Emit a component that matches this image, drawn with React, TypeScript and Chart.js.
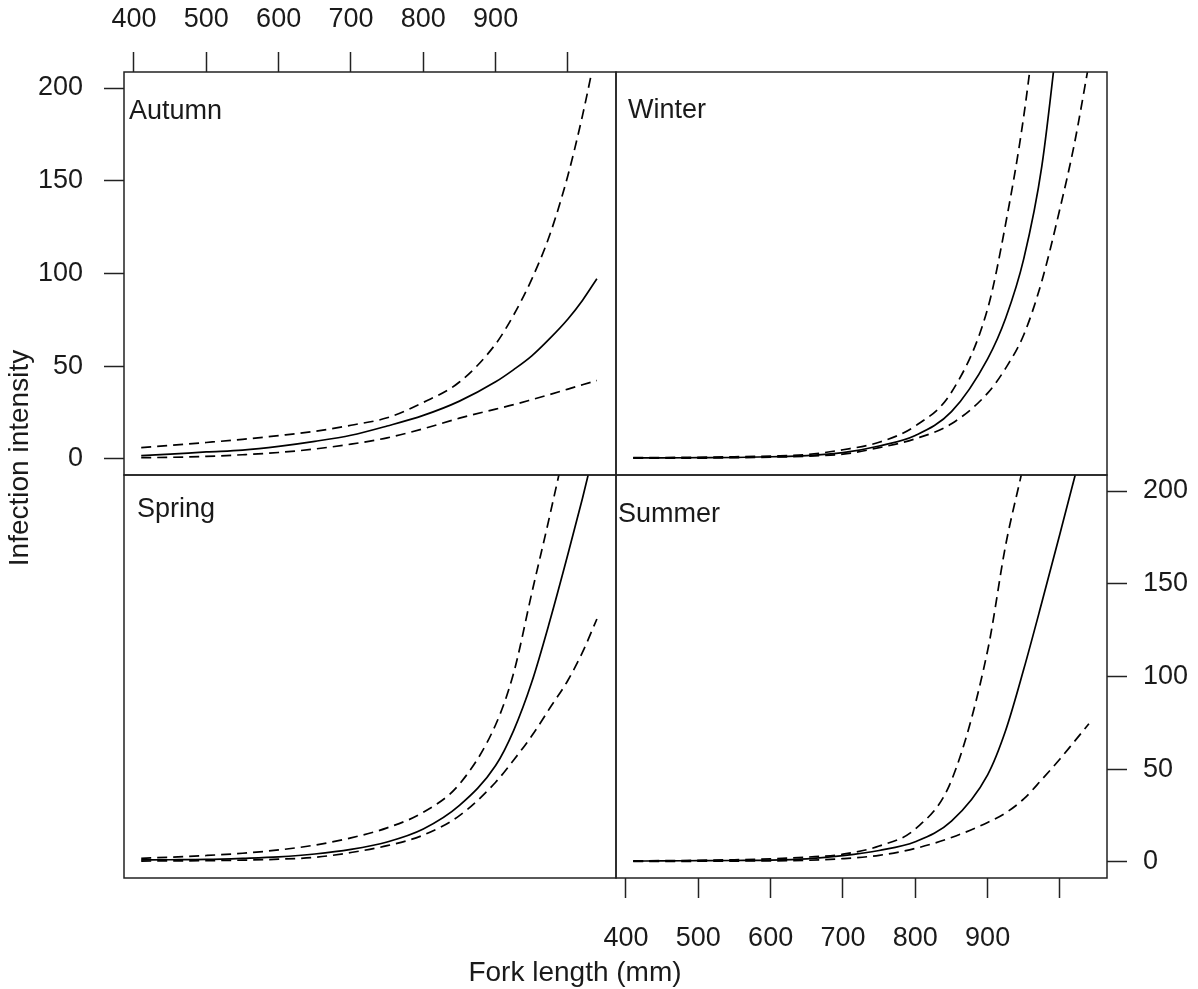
import { useEffect, useRef } from 'react';
import { Chart, registerables } from 'chart.js';

Chart.register(...registerables);

// Fork length (mm) at which every fitted curve is sampled
const FORK_LENGTH = [410, 450, 500, 550, 600, 650, 700, 750, 800, 850, 900, 925, 950, 975, 1000, 1020, 1040];

// Fitted infection intensity (solid) with its upper / lower confidence bounds (dashed)
const AUTUMN_FIT = [1.8, 2.6, 3.8, 4.8, 6.8, 9.5, 12.8, 17.8, 23.5, 31.2, 41.6, 48.2, 55.6, 65, 75.5, 85.5, 97.2];
const AUTUMN_UPPER = [6.1, 7.3, 8.9, 10.6, 12.6, 14.9, 18.2, 22.2, 30.5, 41.5, 62, 77.7, 97, 121, 153, 185, 222];
const AUTUMN_LOWER = [0.7, 0.9, 1.4, 2.3, 3.5, 5.4, 8.0, 11.4, 16.3, 22, 26.9, 29.3, 32, 34.8, 37.7, 40, 42.3];

const WINTER_FIT = [0.6, 0.6, 0.7, 0.8, 1.2, 1.8, 3.4, 7.0, 12.7, 25.5, 54, 76, 108, 158, 240, 310, 400];
const WINTER_UPPER = [0.7, 0.8, 0.9, 1.2, 1.6, 2.4, 5.0, 9.0, 17.8, 36, 81, 127, 185, 265, 360, 450, 560];
const WINTER_LOWER = [0.4, 0.5, 0.5, 0.7, 1.0, 1.5, 2.6, 6.1, 10.9, 19, 35.5, 49, 67, 96, 135, 170, 213];

const SPRING_FIT = [1.1, 1.2, 1.4, 2.0, 2.8, 4.3, 6.8, 10.8, 17.8, 30.5, 52, 71, 97, 130, 166, 196, 228];
const SPRING_UPPER = [2.0, 2.6, 3.5, 4.7, 6.5, 9.1, 13, 18.4, 26.8, 42, 74, 102, 145, 187, 232, 275, 325];
const SPRING_LOWER = [0.5, 0.6, 0.7, 1.0, 1.5, 2.5, 5.1, 8.8, 14.5, 25, 43, 55, 68, 83, 98, 113, 131];

const SUMMER_FIT = [0.5, 0.6, 0.7, 0.8, 1.0, 1.7, 3.4, 6.2, 10.9, 22, 47, 71, 104, 140, 177, 207, 238];
const SUMMER_UPPER = [0.6, 0.7, 0.9, 1.2, 1.7, 2.6, 4.2, 8.6, 17.8, 44, 114, 171, 215, 265, 315, 355, 395];
const SUMMER_LOWER = [0.3, 0.3, 0.4, 0.5, 0.6, 0.9, 1.8, 3.6, 7.3, 13.2, 21.3, 26.5, 34, 44.5, 55.5, 65, 74.5];

// Axis ticks
const X_TICKS = [400, 500, 600, 700, 800, 900, 1000];
const X_TICK_LABELS = ['400', '500', '600', '700', '800', '900', ''];
const Y_TICKS = [0, 50, 100, 150, 200];
const Y_TICK_LABELS = ['0', '50', '100', '150', '200'];

const X_TITLE = 'Fork length (mm)';
const Y_TITLE = 'Infection intensity';

// Page / panel geometry
const PAGE_W = 1198;
const PAGE_H = 989;
const X_MIN = 386.2;
const PX_PER_MM = 0.7233;
const Y_MIN = -8.63;
const Y_MAX = 208.63;

const FONT_FAMILY = '"Liberation Sans", Arial, Helvetica, sans-serif';
const TEXT_COLOR = '#1a1a1a';
const LINE_COLOR = '#000000';
const FRAME_COLOR = '#222222';

type Panel = {
  name: string;
  fit: number[];
  upper: number[];
  lower: number[];
  box: [number, number, number, number]; // left, top, right, bottom
  xAxis: 'top' | 'bottom' | null;
  yAxis: 'left' | 'right' | null;
  labelPos: [number, number];
  titles?: boolean;
};

const PANELS: Panel[] = [
  { name: 'Autumn', fit: AUTUMN_FIT, upper: AUTUMN_UPPER, lower: AUTUMN_LOWER, box: [124, 72, 616, 475], xAxis: 'top', yAxis: 'left', labelPos: [129, 119], titles: true },
  { name: 'Winter', fit: WINTER_FIT, upper: WINTER_UPPER, lower: WINTER_LOWER, box: [616, 72, 1107, 475], xAxis: null, yAxis: null, labelPos: [628, 118] },
  { name: 'Spring', fit: SPRING_FIT, upper: SPRING_UPPER, lower: SPRING_LOWER, box: [124, 475, 616, 878], xAxis: null, yAxis: null, labelPos: [137, 517] },
  { name: 'Summer', fit: SUMMER_FIT, upper: SUMMER_UPPER, lower: SUMMER_LOWER, box: [616, 475, 1107, 878], xAxis: 'bottom', yAxis: 'right', labelPos: [618, 522] },
];

const toPoints = (ys: number[]) => FORK_LENGTH.map((x, i) => ({ x, y: ys[i] }));

function PanelChart({ panel }: { panel: Panel }) {
  const ref = useRef<HTMLCanvasElement | null>(null);

  useEffect(() => {
    if (!ref.current) return;
    const [left, top, right, bottom] = panel.box;
    const xMax = X_MIN + (right - left) / PX_PER_MM;

    const tickFont = { family: FONT_FAMILY, size: 27 };

    // Panel box, season label and (on the first panel) the shared axis titles
    const framePlugin = {
      id: 'panelFrame',
      afterDatasetsDraw(chart: Chart) {
        const { ctx, chartArea: a } = chart;
        ctx.save();
        ctx.strokeStyle = FRAME_COLOR;
        ctx.lineWidth = 1.5;
        ctx.strokeRect(a.left, a.top, a.right - a.left, a.bottom - a.top);
        ctx.fillStyle = TEXT_COLOR;
        ctx.font = `27px ${FONT_FAMILY}`;
        ctx.textAlign = 'left';
        ctx.textBaseline = 'alphabetic';
        ctx.fillText(panel.name, panel.labelPos[0], panel.labelPos[1]);
        if (panel.titles) {
          ctx.font = `28px ${FONT_FAMILY}`;
          ctx.textAlign = 'center';
          ctx.fillText(X_TITLE, 575, 981);
          ctx.translate(28, 458);
          ctx.rotate(-Math.PI / 2);
          ctx.fillText(Y_TITLE, 0, 0);
        }
        ctx.restore();
      },
    };

    const line = (data: number[], dashed: boolean) => ({
      data: toPoints(data),
      borderColor: LINE_COLOR,
      borderWidth: 1.7,
      borderDash: dashed ? [10, 6] : [],
      pointRadius: 0,
      fill: false,
      cubicInterpolationMode: 'monotone' as const,
      clip: 0,
    });

    const chart = new Chart(ref.current, {
      type: 'line',
      data: {
        datasets: [line(panel.lower, true), line(panel.upper, true), line(panel.fit, false)],
      },
      options: {
        animation: false,
        responsive: false,
        devicePixelRatio: 1,
        events: [],
        layout: {
          padding: {
            left: panel.yAxis === 'left' ? 0 : left,
            top: panel.xAxis === 'top' ? 0 : top,
            right: panel.yAxis === 'right' ? 0 : PAGE_W - right,
            bottom: panel.xAxis === 'bottom' ? 0 : PAGE_H - bottom,
          },
        },
        plugins: {
          legend: { display: false },
          tooltip: { enabled: false },
          title: { display: false },
        },
        scales: {
          x: {
            type: 'linear',
            display: panel.xAxis !== null,
            position: panel.xAxis ?? 'bottom',
            min: X_MIN,
            max: xMax,
            afterBuildTicks: (s: any) => {
              s.ticks = X_TICKS.map((v) => ({ value: v }));
            },
            afterFit: (s: any) => {
              if (panel.xAxis === 'top') s.height = top;
              else if (panel.xAxis === 'bottom') s.height = PAGE_H - bottom;
            },
            border: { display: false },
            grid: {
              drawOnChartArea: false,
              drawTicks: true,
              tickLength: 20,
              tickColor: FRAME_COLOR,
              tickWidth: 1.5,
            },
            ticks: {
              autoSkip: false,
              maxRotation: 0,
              minRotation: 0,
              font: tickFont,
              color: TEXT_COLOR,
              padding: panel.xAxis === 'top' ? 16 : 24,
              callback: (v: any) => X_TICK_LABELS[X_TICKS.indexOf(Number(v))] ?? '',
            },
          },
          y: {
            type: 'linear',
            display: panel.yAxis !== null,
            position: panel.yAxis ?? 'left',
            min: Y_MIN,
            max: Y_MAX,
            afterBuildTicks: (s: any) => {
              s.ticks = Y_TICKS.map((v) => ({ value: v }));
            },
            afterFit: (s: any) => {
              if (panel.yAxis === 'left') s.width = left;
              else if (panel.yAxis === 'right') s.width = PAGE_W - right;
            },
            border: { display: false },
            grid: {
              drawOnChartArea: false,
              drawTicks: true,
              tickLength: 20,
              tickColor: FRAME_COLOR,
              tickWidth: 1.5,
            },
            ticks: {
              autoSkip: false,
              font: tickFont,
              color: TEXT_COLOR,
              padding: panel.yAxis === 'left' ? 21 : 16,
              callback: (v: any) => Y_TICK_LABELS[Y_TICKS.indexOf(Number(v))] ?? '',
            },
          },
        },
      },
      plugins: [framePlugin],
    } as any);

    return () => chart.destroy();
  }, [panel]);

  return (
    <canvas
      ref={ref}
      width={PAGE_W}
      height={PAGE_H}
      style={{ position: 'absolute', left: 0, top: 0, width: PAGE_W, height: PAGE_H }}
    />
  );
}

export default function App() {
  return (
    <div style={{ position: 'absolute', left: 0, top: 0, width: PAGE_W, height: PAGE_H, background: '#ffffff' }}>
      {PANELS.map((p) => (
        <PanelChart key={p.name} panel={p} />
      ))}
    </div>
  );
}
